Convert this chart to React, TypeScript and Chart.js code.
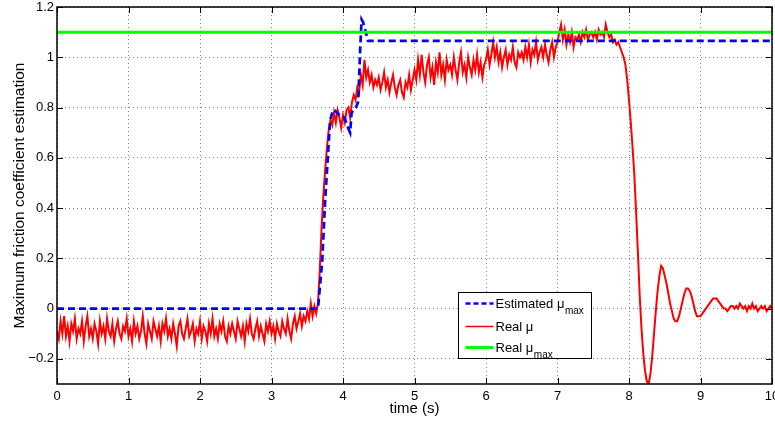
import React, { useEffect, useRef } from "react";
import { Chart, registerables } from "chart.js";

Chart.register(...registerables);

// ---------- data ----------
const xTickValues = [0, 1, 2, 3, 4, 5, 6, 7, 8, 9, 10];
const xTickLabels = ["0", "1", "2", "3", "4", "5", "6", "7", "8", "9", "10"];
const yTickValues = [-0.2, 0, 0.2, 0.4, 0.6, 0.8, 1, 1.2];
const yTickLabels = ["\u22120.2", "0", "0.2", "0.4", "0.6", "0.8", "1", "1.2"];

// Real mu, sampled every 0.025 s from 0 s to 10 s
const realMuStart = 0;
const realMuStep = 0.025;
const realMu = [
  -0.09, -0.12, -0.05, -0.10, -0.03, -0.11, -0.07, -0.13, -0.06, -0.09, -0.04, -0.12, -0.08, -0.10, -0.05, -0.13, -0.07, -0.03, -0.11, -0.08,
  -0.12, -0.06, -0.09, -0.14, -0.05, -0.10, -0.07, -0.12, -0.04, -0.09, -0.11, -0.06, -0.13, -0.08, -0.05, -0.10, -0.12, -0.07, -0.09, -0.04,
  -0.11, -0.08, -0.13, -0.05, -0.10, -0.07, -0.12, -0.09, -0.03, -0.10, -0.14, -0.06, -0.09, -0.12, -0.05, -0.08, -0.11, -0.07, -0.13, -0.06,
  -0.09, -0.04, -0.11, -0.08, -0.12, -0.06, -0.10, -0.15, -0.07, -0.05, -0.10, -0.12, -0.08, -0.04, -0.11, -0.09, -0.06, -0.13, -0.08, -0.10,
  -0.05, -0.12, -0.07, -0.09, -0.13, -0.06, -0.10, -0.04, -0.11, -0.08, -0.12, -0.06, -0.09, -0.05, -0.11, -0.13, -0.07, -0.10, -0.06, -0.09,
  -0.12, -0.05, -0.08, -0.11, -0.07, -0.13, -0.06, -0.09, -0.04, -0.10, -0.12, -0.08, -0.05, -0.11, -0.07, -0.10, -0.13, -0.06, -0.09, -0.05,
  -0.10, -0.07, -0.12, -0.06, -0.09, -0.11, -0.05, -0.08, -0.10, -0.04, -0.09, -0.12, -0.06, -0.03, -0.08, -0.05, -0.02, -0.07, -0.03, -0.05,
  -0.01, -0.04, 0.02, -0.03, 0.01, -0.02, 0.02, 0.15, 0.32, 0.45, 0.55, 0.64, 0.71, 0.75, 0.73, 0.78, 0.74, 0.79, 0.76, 0.72,
  0.77, 0.74, 0.79, 0.80, 0.76, 0.82, 0.85, 0.83, 0.88, 0.86, 0.93, 0.89, 0.99, 0.92, 0.95, 0.90, 0.93, 0.88, 0.91, 0.89,
  0.92, 0.87, 0.90, 0.94, 0.88, 0.91, 0.86, 0.90, 0.93, 0.88, 0.85, 0.89, 0.91, 0.86, 0.84, 0.90, 0.88, 0.93, 0.87, 0.91,
  0.95, 0.91, 0.99, 0.93, 1.01, 0.94, 0.90, 0.97, 1.00, 0.92, 0.96, 0.89, 0.98, 0.94, 1.02, 0.93, 0.97, 0.91, 0.99, 0.95,
  0.97, 0.93, 1.00, 0.95, 0.91, 0.98, 1.02, 0.94, 0.97, 0.92, 1.00, 0.96, 0.93, 0.99, 0.95, 1.01, 0.94, 0.98, 0.92, 0.97,
  0.99, 1.03, 0.97, 1.01, 1.06, 1.00, 1.04, 0.98, 1.02, 0.96, 1.00, 1.03, 0.97, 1.01, 0.99, 1.04, 0.98, 0.96, 1.02, 1.00,
  1.02, 0.99, 1.04, 1.00, 1.05, 0.98, 1.03, 1.01, 1.06, 0.99, 1.02, 1.04, 1.00, 1.05, 1.01, 0.98, 1.03, 1.06, 1.00, 1.04,
  1.06, 1.10, 1.13, 1.07, 1.11, 1.05, 1.09, 1.06, 1.10, 1.04, 1.08, 1.07, 1.09, 1.06, 1.10, 1.08, 1.11, 1.07, 1.09, 1.10,
  1.08, 1.10, 1.07, 1.11, 1.09, 1.10, 1.08, 1.13, 1.10, 1.08, 1.09, 1.06, 1.07, 1.05, 1.06, 1.04, 1.02, 1.00, 0.97, 0.91,
  0.83, 0.74, 0.64, 0.53, 0.38, 0.22, 0.05, -0.08, -0.18, -0.25, -0.29, -0.30, -0.26, -0.19, -0.10, -0.01, 0.07, 0.13, 0.17, 0.16,
  0.13, 0.10, 0.06, 0.02, -0.01, -0.04, -0.05, -0.05, -0.03, 0.00, 0.03, 0.06, 0.08, 0.08, 0.07, 0.05, 0.02, -0.01, -0.03, -0.03,
  -0.03, -0.02, -0.01, 0.00, 0.01, 0.02, 0.03, 0.04, 0.04, 0.04, 0.03, 0.02, 0.01, 0.00, 0.00, -0.01, 0.00, 0.01, 0.01, 0.00,
  0.01, 0.00, 0.02, 0.01, 0.00, 0.01, -0.01, 0.01, 0.00, 0.02, 0.00, 0.01, -0.01, 0.00, 0.01, 0.00, 0.01, -0.01, 0.00, 0.01,
  0.00,
];

// Estimated mu_max
const estTime = [0, 3.65, 3.71, 3.75, 3.79, 3.82, 3.86, 3.88, 3.95, 4.02, 4.07, 4.1, 4.12, 4.18, 4.21, 4.22, 4.24, 4.26, 4.28, 4.31, 4.35, 10];
const estMu = [0, 0, 0.19, 0.43, 0.61, 0.75, 0.79, 0.79, 0.77, 0.76, 0.72, 0.7, 0.78, 0.8, 0.82, 0.88, 1.03, 1.15, 1.14, 1.11, 1.065, 1.065];

// Real mu_max
const realMaxTime = [0, 10];
const realMaxMu = [1.1, 1.1];

const legendEntries = [
  { main: "Estimated \u03bc", sub: "max" },
  { main: "Real \u03bc", sub: "" },
  { main: "Real \u03bc", sub: "max" },
];

const FONT = '"Liberation Sans", Arial, Helvetica, sans-serif';
const BLUE = "#0000ff";
const RED = "#ff0000";
const GREEN = "#00ff00";

const framePlugin = {
  id: "matlabFrame",
  afterDatasetsDraw(chart: any) {
    const { ctx, chartArea, scales } = chart;
    const { left, right, top, bottom } = chartArea;
    const x = scales.x;
    const y = scales.y;
    ctx.save();
    ctx.strokeStyle = "#000";
    ctx.lineWidth = 1;
    ctx.setLineDash([]);
    ctx.beginPath();
    const tl = 6;
    xTickValues.forEach((v) => {
      const px = Math.round(x.getPixelForValue(v)) + 0.5;
      ctx.moveTo(px, bottom);
      ctx.lineTo(px, bottom - tl);
      ctx.moveTo(px, top);
      ctx.lineTo(px, top + tl);
    });
    yTickValues.forEach((v) => {
      const py = Math.round(y.getPixelForValue(v)) + 0.5;
      ctx.moveTo(left, py);
      ctx.lineTo(left + tl, py);
      ctx.moveTo(right, py);
      ctx.lineTo(right - tl, py);
    });
    ctx.stroke();
    ctx.lineWidth = 1.5;
    ctx.strokeRect(left, top, right - left, bottom - top);
    ctx.restore();
  },
  afterDraw(chart: any) {
    const { ctx, chartArea } = chart;
    const w = 133;
    const h = 66;
    const bx = Math.round(chartArea.right - 181 - w) + 0.5;
    const by = Math.round(chartArea.bottom - 26 - h) + 0.5;
    ctx.save();
    ctx.fillStyle = "#fff";
    ctx.fillRect(bx, by, w, h);
    ctx.strokeStyle = "#000";
    ctx.lineWidth = 1;
    ctx.setLineDash([]);
    ctx.strokeRect(bx, by, w, h);
    const rows = [11, 34, 55];
    const styles = [
      { color: BLUE, width: 2.5, dash: [5, 3] },
      { color: RED, width: 1.5, dash: [] },
      { color: GREEN, width: 3, dash: [] },
    ];
    legendEntries.forEach((e, i) => {
      const ly = by + rows[i];
      const s = styles[i];
      ctx.beginPath();
      ctx.strokeStyle = s.color;
      ctx.lineWidth = s.width;
      ctx.setLineDash(s.dash);
      ctx.moveTo(bx + 7, ly);
      ctx.lineTo(bx + 35, ly);
      ctx.stroke();
      ctx.setLineDash([]);
      ctx.fillStyle = "#000";
      ctx.textBaseline = "alphabetic";
      ctx.textAlign = "left";
      ctx.font = `13px ${FONT}`;
      const tx = bx + 37;
      const base = ly + 4.5;
      ctx.fillText(e.main, tx, base);
      if (e.sub) {
        const mw = ctx.measureText(e.main).width;
        ctx.font = `10px ${FONT}`;
        ctx.fillText(e.sub, tx + mw + 0.5, base + 6);
      }
    });
    ctx.restore();
  },
};

export default function App() {
  const canvasRef = useRef<HTMLCanvasElement | null>(null);

  useEffect(() => {
    if (!canvasRef.current) return;
    const realData = realMu.map((v, i) => ({ x: realMuStart + i * realMuStep, y: v }));
    const estData = estTime.map((t, i) => ({ x: t, y: estMu[i] }));
    const maxData = realMaxTime.map((t, i) => ({ x: t, y: realMaxMu[i] }));
    const gridColor = "rgba(0,0,0,0.5)";

    const chart = new Chart(canvasRef.current, {
      type: "line",
      data: {
        datasets: [
          {
            label: "Real \u03bc max",
            data: maxData,
            borderColor: GREEN,
            borderWidth: 3,
            pointRadius: 0,
            order: 0,
          },
          {
            label: "Estimated \u03bc max",
            data: estData,
            borderColor: BLUE,
            borderWidth: 2.7,
            borderDash: [7, 4],
            pointRadius: 0,
            order: 1,
          },
          {
            label: "Real \u03bc",
            data: realData,
            borderColor: RED,
            borderWidth: 2,
            pointRadius: 0,
            order: 2,
          },
        ],
      },
      options: {
        animation: false,
        responsive: true,
        maintainAspectRatio: false,
        parsing: true,
        layout: { padding: { left: 0, right: 3, top: 7, bottom: 0 } },
        plugins: {
          legend: { display: false },
          tooltip: { enabled: false },
        },
        elements: { line: { tension: 0 } },
        scales: {
          x: {
            type: "linear",
            min: 0,
            max: 10,
            afterBuildTicks: (s: any) => {
              s.ticks = xTickValues.map((v) => ({ value: v }));
            },
            afterFit: (s: any) => {
              s.height = 39;
              s.paddingLeft = 0;
              s.paddingRight = 0;
            },
            ticks: {
              autoSkip: false,
              maxRotation: 0,
              minRotation: 0,
              padding: 5,
              color: "#000",
              font: { family: FONT, size: 13 },
              callback: (v: any) => xTickLabels[xTickValues.indexOf(Number(v))] ?? "",
            },
            grid: { color: gridColor, lineWidth: 1, drawTicks: false },
            border: { display: false, dash: [1, 3] },
            title: {
              display: true,
              text: "time (s)",
              color: "#000",
              font: { family: FONT, size: 15 },
              padding: { top: 0, bottom: 5 },
            },
          },
          y: {
            type: "linear",
            min: -0.3,
            max: 1.2,
            afterBuildTicks: (s: any) => {
              s.ticks = yTickValues.map((v) => ({ value: v }));
            },
            afterFit: (s: any) => {
              s.width = 57;
              s.paddingTop = 0;
              s.paddingBottom = 0;
            },
            ticks: {
              autoSkip: false,
              padding: 3,
              color: "#000",
              font: { family: FONT, size: 13 },
              callback: (v: any) => {
                const idx = yTickValues.findIndex((t) => Math.abs(t - Number(v)) < 1e-9);
                return idx >= 0 ? yTickLabels[idx] : "";
              },
            },
            grid: { color: gridColor, lineWidth: 1, drawTicks: false },
            border: { display: false, dash: [1, 3] },
            title: {
              display: true,
              text: "Maximum friction coefficient estimation",
              color: "#000",
              font: { family: FONT, size: 15.5 },
              padding: { top: 10, bottom: 0 },
            },
          },
        },
      },
      plugins: [framePlugin],
    });
    return () => chart.destroy();
  }, []);

  return (
    <div style={{ position: "fixed", left: 0, top: 0, width: 775, height: 423, background: "#fff" }}>
      <canvas ref={canvasRef} />
    </div>
  );
}
